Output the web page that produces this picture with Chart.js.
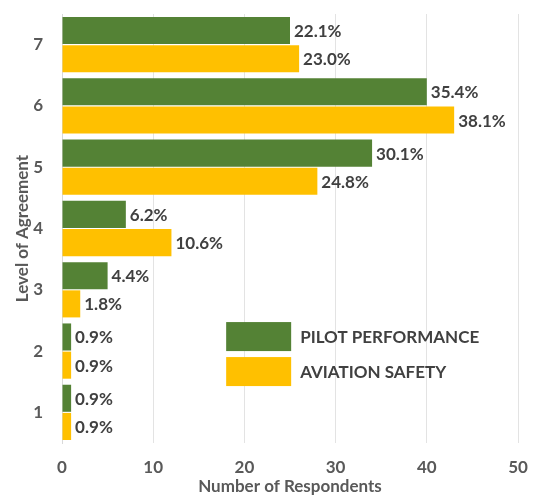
<!DOCTYPE html>
<html>
<head>
<meta charset="utf-8">
<script src="https://cdn.jsdelivr.net/npm/chart.js@4"></script>
<style>
  html, body { margin: 0; padding: 0; background: #fff; }
  #wrap { position: relative; width: 536px; height: 497px; }
</style>
</head>
<body>
<div id="wrap"><canvas id="chart" width="536" height="497"></canvas></div>
<script>
// level of agreement, top to bottom
const levels = ["7", "6", "5", "4", "3", "2", "1"];
// respondents per level
const pilotCounts = [25, 40, 34, 7, 5, 1, 1];
const safetyCounts = [26, 43, 28, 12, 2, 1, 1];
// printed share labels
const pilotPct = ["22.1%", "35.4%", "30.1%", "6.2%", "4.4%", "0.9%", "0.9%"];
const safetyPct = ["23.0%", "38.1%", "24.8%", "10.6%", "1.8%", "0.9%", "0.9%"];
const xTicks = [0, 10, 20, 30, 40, 50];

const FONT = "Lato, 'Open Sans', sans-serif";
const GREEN = "#548235";
const GOLD = "#FFC000";
const TXT = { family: FONT, size: 17, weight: "bold" };

// bar-end percentage labels
const valueLabels = {
  id: "valueLabels",
  afterDatasetsDraw(chart) {
    const { ctx } = chart;
    ctx.save();
    ctx.font = `bold 17px ${FONT}`;
    ctx.fillStyle = "#404040";
    ctx.textBaseline = "middle";
    chart.data.datasets.forEach((ds, di) => {
      chart.getDatasetMeta(di).data.forEach((bar, i) => {
        ctx.fillText(ds.pctLabels[i], bar.x + 4, bar.y + 1);
      });
    });
    ctx.restore();
  },
};

// legend sits inside the plot, lower right
const innerLegend = {
  id: "innerLegend",
  afterDraw(chart) {
    const { ctx, scales } = chart;
    const x0 = scales.x.getPixelForValue(18);
    let y = scales.y.getPixelForValue(5) - 29;
    ctx.save();
    ctx.font = `bold 17px ${FONT}`;
    ctx.textBaseline = "middle";
    chart.data.datasets.forEach((ds) => {
      ctx.fillStyle = ds.backgroundColor;
      ctx.fillRect(x0, y, 65, 29);
      ctx.fillStyle = "#404040";
      ctx.fillText(ds.label, x0 + 74, y + 15);
      y += 35;
    });
    ctx.restore();
  },
};

new Chart(document.getElementById("chart"), {
  type: "bar",
  data: {
    labels: levels,
    datasets: [
      { label: "PILOT PERFORMANCE", data: pilotCounts, pctLabels: pilotPct,
        backgroundColor: GREEN, borderWidth: 0 },
      { label: "AVIATION SAFETY", data: safetyCounts, pctLabels: safetyPct,
        backgroundColor: GOLD, borderWidth: 0 },
    ],
  },
  options: {
    indexAxis: "y",
    responsive: false,
    animation: false,
    datasets: { bar: { categoryPercentage: 0.92, barPercentage: 0.96 } },
    layout: { padding: { top: 14, right: 0, bottom: 0, left: 12 } },
    plugins: { legend: { display: false }, tooltip: { enabled: false } },
    scales: {
      x: {
        min: 0, max: 50,
        afterBuildTicks: (axis) => { axis.ticks = xTicks.map((v) => ({ value: v })); },
        afterFit: (axis) => { axis.height = 54; axis.paddingRight = 18; axis.paddingLeft = 0; },
        ticks: { color: "#595959", font: TXT, padding: 14 },
        grid: { color: "#e3e3e3", drawTicks: false },
        border: { display: false },
        title: { display: true, text: "Number of Respondents", color: "#595959",
                 font: TXT, padding: { top: 0, bottom: 0 } },
      },
      y: {
        afterFit: (axis) => { axis.width = 50; axis.paddingTop = 0; axis.paddingBottom = 0; },
        ticks: { color: "#595959", font: TXT, padding: 19 },
        grid: { display: false, drawTicks: false },
        border: { color: "#d9d9d9" },
        title: { display: true, text: "Level of Agreement", color: "#595959",
                 font: TXT, padding: { top: 0, bottom: 0 } },
      },
    },
  },
  plugins: [valueLabels, innerLegend],
});
</script>
</body>
</html>
